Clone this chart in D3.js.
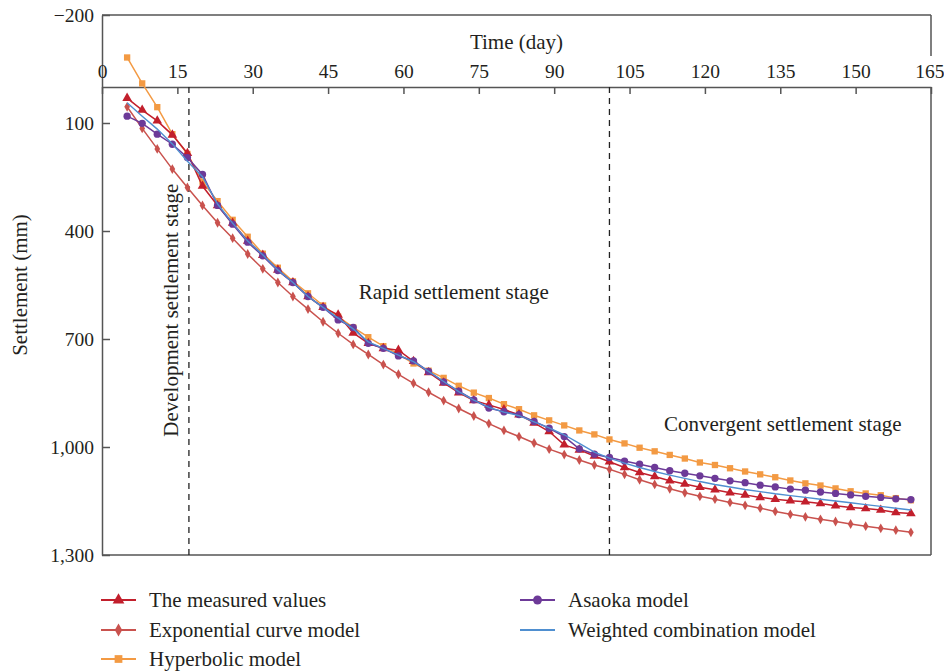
<!DOCTYPE html>
<html lang="en">
  <head>
    <meta charset="UTF-8" />
    <title>Settlement prediction</title>
    <script src="https://d3js.org/d3.v7.min.js"></script>
    <style>
      html,
      body {
        margin: 0;
        background: #fff;
        font-family: "Liberation Serif", "DejaVu Serif", serif;
      }
      svg {
        display: block;
      }
      .axis text {
        font-family: "Liberation Serif", "DejaVu Serif", serif;
        font-size: 19.5px;
        fill: #231f20;
      }
      .axis path,
      .axis line {
        stroke: #555;
        stroke-width: 1.5;
      }
      .label {
        font-size: 21px;
        fill: #231f20;
      }
    </style>
  </head>
  <body>
    <svg id="chart" width="944" height="671"></svg>
    <script>
      // observation days (every 3 days)
      const days = d3.range(5, 162, 3);

      const measured = [
        31, 64, 94, 133, 184, 275, 329, 378, 428, 467, 508, 543, 582, 612, 633,
        683, 712, 726, 731, 762, 793, 822, 849, 871, 883, 896, 910, 933, 957,
        994, 1008, 1025, 1041, 1057, 1071, 1082, 1094, 1103, 1112, 1119, 1127,
        1133, 1140, 1145, 1149, 1152, 1157, 1163, 1168, 1171, 1175, 1182, 1185,
      ];
      const exponential = [
        55, 115, 172, 228, 279, 329, 377, 420, 464, 505, 543, 582, 617, 652,
        684, 715, 743, 771, 798, 823, 848, 871, 893, 914, 935, 954, 971, 989,
        1006, 1021, 1036, 1050, 1062, 1076, 1091, 1104, 1116, 1127, 1137, 1145,
        1154, 1162, 1170, 1179, 1187, 1194, 1201, 1207, 1214, 1220, 1226, 1231,
        1237,
      ];
      const hyperbolic = [
        -82, -10, 56, 131, 186, 263, 317, 369, 416, 463, 502, 540, 573, 607,
        638, 668, 695, 720, 742, 768, 788, 808, 830, 849, 864, 881, 895, 912,
        926, 940, 954, 965, 979, 990, 1002, 1012, 1022, 1032, 1043, 1050, 1059,
        1068, 1076, 1084, 1093, 1101, 1107, 1115, 1123, 1129, 1134, 1142, 1148,
      ];
      const asaoka = [
        81, 101, 131, 159, 196, 243, 329, 381, 431, 469, 510, 543, 582, 612,
        647, 668, 712, 726, 747, 761, 790, 819, 845, 869, 892, 902, 910, 929,
        948, 971, 1005, 1020, 1029, 1039, 1048, 1057, 1066, 1073, 1080, 1087,
        1094, 1099, 1106, 1111, 1117, 1120, 1125, 1129, 1133, 1137, 1140, 1144,
        1146,
      ];
      const weighted = [
        44, 81, 117, 158, 206, 249, 325, 378, 428, 466, 508, 543, 582, 612, 642,
        672, 708, 726, 745, 763, 790, 818, 846, 870, 890, 903, 913, 930, 947,
        966, 990, 1014, 1031, 1045, 1057, 1068, 1078, 1087, 1096, 1104, 1111,
        1118, 1124, 1130, 1135, 1140, 1145, 1150, 1155, 1160, 1165, 1170, 1175,
      ];

      const xTicks = d3.range(0, 166, 15);
      const yTicks = [-200, 100, 400, 700, 1000, 1300];
      const stageBounds = [17.3, 101];

      const series = [
        { name: "Exponential curve model", values: exponential, color: "#c9524e", symbol: d3.symbolDiamond, size: 28 },
        { name: "Hyperbolic model", values: hyperbolic, color: "#f39a43", symbol: d3.symbolSquare, size: 40 },
        { name: "The measured values", values: measured, color: "#c21f2c", symbol: d3.symbolTriangle, size: 40 },
        { name: "Asaoka model", values: asaoka, color: "#6d3a98", symbol: d3.symbolCircle, size: 42 },
        { name: "Weighted combination model", values: weighted, color: "#4f8fd0", symbol: null, size: 0 },
      ];

      const svg = d3.select("#chart");
      const x = d3.scaleLinear().domain([0, 165]).range([102, 931]);
      const y = d3.scaleLinear().domain([-200, 1300]).range([15, 555]);

      // frame
      const frame = svg.append("g").attr("stroke", "#555").attr("stroke-width", 1.5);
      frame.append("line").attr("x1", x(0)).attr("x2", x(165)).attr("y1", y(-200)).attr("y2", y(-200));
      frame.append("line").attr("x1", x(0)).attr("x2", x(165)).attr("y1", y(1300)).attr("y2", y(1300));
      frame.append("line").attr("x1", x(165)).attr("x2", x(165)).attr("y1", y(-200)).attr("y2", y(-200) + 41);
      frame.append("line").attr("x1", x(165)).attr("x2", x(165)).attr("y1", y(0)).attr("y2", y(1300));

      // y axis
      svg
        .append("g")
        .attr("class", "axis")
        .attr("transform", `translate(${x(0)},0)`)
        .call(
          d3.axisLeft(y).tickValues(yTicks).tickSizeInner(-8).tickSizeOuter(0).tickPadding(8).tickFormat(d3.format(","))
        );

      // x axis sits at settlement = 0, labels above, ticks below
      const xAxisG = svg
        .append("g")
        .attr("class", "axis")
        .attr("transform", `translate(0,${y(0)})`)
        .call(d3.axisTop(x).tickValues(xTicks).tickSizeInner(-7).tickSizeOuter(0).tickPadding(9));
      // keep the last label inside the page
      xAxisG
        .selectAll(".tick text")
        .filter((d) => d === 165)
        .attr("text-anchor", "end")
        .attr("dx", 13);

      svg
        .append("text")
        .attr("class", "label")
        .attr("x", (x(0) + x(165)) / 2)
        .attr("y", 49)
        .attr("text-anchor", "middle")
        .text("Time (day)");

      svg
        .append("text")
        .attr("class", "label")
        .attr("transform", `translate(27,${y(550)}) rotate(-90)`)
        .attr("text-anchor", "middle")
        .text("Settlement (mm)");

      // stage boundaries
      svg
        .selectAll(".stage")
        .data(stageBounds)
        .enter()
        .append("line")
        .attr("x1", (d) => x(d))
        .attr("x2", (d) => x(d))
        .attr("y1", y(0))
        .attr("y2", y(1300))
        .attr("stroke", "#222")
        .attr("stroke-width", 1.3)
        .attr("stroke-dasharray", "6,5");

      svg
        .append("text")
        .attr("class", "label")
        .attr("transform", `translate(178,${y(620)}) rotate(-90)`)
        .attr("text-anchor", "middle")
        .text("Development settlement stage");
      svg
        .append("text")
        .attr("class", "label")
        .attr("x", x(70))
        .attr("y", y(590))
        .attr("text-anchor", "middle")
        .text("Rapid settlement stage");
      svg
        .append("text")
        .attr("class", "label")
        .attr("x", x(135.5))
        .attr("y", y(955))
        .attr("text-anchor", "middle")
        .text("Convergent settlement stage");

      // series
      const line = d3
        .line()
        .x((d, i) => x(days[i]))
        .y((d) => y(d));

      series.forEach((s) => {
        const g = svg.append("g");
        g.append("path")
          .attr("d", line(s.values))
          .attr("fill", "none")
          .attr("stroke", s.color)
          .attr("stroke-width", s.symbol ? 1.5 : 1.4);
        if (s.symbol) {
          g.selectAll("path.pt")
            .data(s.values)
            .enter()
            .append("path")
            .attr("class", "pt")
            .attr("d", d3.symbol().type(s.symbol).size(s.size))
            .attr("transform", (d, i) => `translate(${x(days[i])},${y(d)})`)
            .attr("fill", s.color);
        }
      });

      // legend
      const legendOrder = [
        { s: series[2], lx: 101, ly: 600 },
        { s: series[0], lx: 101, ly: 630 },
        { s: series[1], lx: 101, ly: 659 },
        { s: series[3], lx: 520, ly: 600 },
        { s: series[4], lx: 520, ly: 630 },
      ];
      legendOrder.forEach(({ s, lx, ly }) => {
        const g = svg.append("g").attr("transform", `translate(${lx},${ly})`);
        g.append("line").attr("x1", 0).attr("x2", 35).attr("stroke", s.color).attr("stroke-width", 2);
        if (s.symbol) {
          g.append("path")
            .attr("transform", "translate(17.5,0)")
            .attr("d", d3.symbol().type(s.symbol).size(s.size + 20))
            .attr("fill", s.color);
        }
        g.append("text")
          .attr("class", "label")
          .attr("x", 48)
          .attr("y", 7)
          .text(s.name);
      });
    </script>
  </body>
</html>
